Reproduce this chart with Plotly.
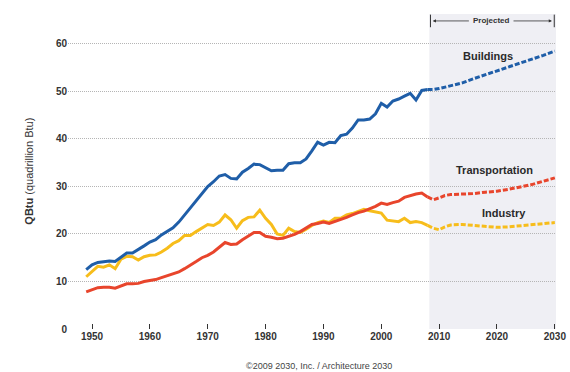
import plotly.graph_objects as go

hist_years = list(range(1949, 2009))
buildings_hist = [12.5, 13.5, 14.0, 14.2, 14.3, 14.2, 15.2, 16.0, 16.0, 16.7,
                  17.5, 18.3, 18.8, 19.8, 20.5, 21.3, 22.5, 24.0, 25.5, 27.0,
                  28.7, 30.0, 31.0, 32.2, 32.5, 31.7, 31.6, 33.0, 33.8, 34.7,
                  34.6, 34.0, 33.3, 33.4, 33.4, 34.8, 35.0, 35.0, 35.8, 37.5,
                  39.3, 38.7, 39.3, 39.2, 40.7, 41.0, 42.3, 44.0, 44.0, 44.2,
                  45.3, 47.5, 46.7, 48.0, 48.4, 49.0, 49.6, 48.2, 50.2, 50.4]
transport_hist = [7.8, 8.2, 8.7, 8.8, 8.8, 8.6, 9.1, 9.5, 9.5, 9.6,
                  10.0, 10.2, 10.4, 10.8, 11.2, 11.6, 12.0, 12.7, 13.4, 14.2,
                  15.0, 15.5, 16.2, 17.2, 18.2, 17.8, 17.9, 18.8, 19.5, 20.3,
                  20.3, 19.5, 19.3, 19.0, 19.1, 19.5, 19.9, 20.5, 21.2, 22.0,
                  22.2, 22.5, 22.2, 22.6, 23.0, 23.5, 24.0, 24.5, 24.8, 25.3,
                  25.8, 26.5, 26.2, 26.6, 26.9, 27.7, 28.1, 28.4, 28.6, 27.8]
industry_hist = [11.0, 12.0, 13.2, 13.0, 13.5, 12.7, 14.7, 15.3, 15.2, 14.5,
                 15.2, 15.5, 15.6, 16.2, 17.0, 18.0, 18.6, 19.7, 19.7, 20.5,
                 21.3, 22.0, 21.8, 22.5, 24.0, 23.0, 21.2, 22.8, 23.5, 23.6,
                 25.0, 23.3, 22.0, 20.0, 19.7, 21.2, 20.5, 20.3, 21.0, 21.8,
                 22.4, 22.7, 22.4, 23.3, 23.3, 24.0, 24.3, 24.8, 25.2, 24.9,
                 24.6, 24.4, 22.9, 22.8, 22.6, 23.3, 22.4, 22.6, 22.4, 21.8]

proj_years = [2008, 2009, 2010, 2011, 2012, 2014, 2016, 2018, 2020, 2022, 2024, 2026, 2028, 2030]
buildings_proj = [50.4, 50.4, 50.6, 50.9, 51.2, 51.8, 52.7, 53.5, 54.3, 55.1, 55.9, 56.8, 57.6, 58.5]
transport_proj = [27.8, 27.2, 27.6, 28.1, 28.3, 28.4, 28.5, 28.8, 29.0, 29.4, 29.9, 30.4, 31.1, 31.8]
industry_proj = [21.8, 21.2, 20.9, 21.5, 21.9, 22.0, 21.8, 21.6, 21.4, 21.5, 21.7, 21.9, 22.1, 22.4]

x_ticks = [1950, 1960, 1970, 1980, 1990, 2000, 2010, 2020, 2030]
y_ticks = [0, 10, 20, 30, 40, 50, 60]
proj_start = 2008.3

BLUE = "#1f5ea8"
RED = "#e8452c"
YELLOW = "#f7bd1b"

fig = go.Figure()

series = [
    ("Industry", industry_hist, industry_proj, YELLOW),
    ("Transportation", transport_hist, transport_proj, RED),
    ("Buildings", buildings_hist, buildings_proj, BLUE),
]
for name, h, p, c in series:
    fig.add_trace(go.Scatter(x=hist_years, y=h, mode="lines", name=name,
                             line=dict(color=c, width=3), showlegend=False))
    fig.add_trace(go.Scatter(x=proj_years, y=p, mode="lines", name=name + " (projected)",
                             line=dict(color=c, width=3, dash="5px,2px"), showlegend=False))

fig.add_shape(type="rect", xref="x", yref="paper", x0=proj_start, x1=2030.2, y0=0, y1=1,
              fillcolor="#efeff4", line=dict(width=0), layer="below")

lbl_font = dict(family="Liberation Sans, Arial, sans-serif", size=11, color="#2a2a2a")
fig.add_annotation(x=2018.5, y=57.5, text="<b>Buildings</b>", showarrow=False, font=lbl_font)
fig.add_annotation(x=2019.5, y=33.5, text="<b>Transportation</b>", showarrow=False, font=lbl_font)
fig.add_annotation(x=2021.2, y=24.5, text="<b>Industry</b>", showarrow=False, font=lbl_font)

# Projected bracket
arrow_y = 0.978
fig.add_annotation(x=2019.0, y=arrow_y, yref="paper", yanchor="middle", text="<b>Projected</b>",
                   showarrow=False, font=dict(family="Liberation Sans, Arial, sans-serif", size=8, color="#333"))
fig.add_annotation(x=proj_start + 0.6, y=arrow_y, yref="paper", ax=2015.4, ay=0, axref="x", ayref="pixel",
                   showarrow=True, arrowhead=2, arrowsize=0.8, arrowwidth=0.8, arrowcolor="#333", text="")
fig.add_annotation(x=2029.5, y=arrow_y, yref="paper", ax=2022.6, ay=0, axref="x", ayref="pixel",
                   showarrow=True, arrowhead=2, arrowsize=0.8, arrowwidth=0.8, arrowcolor="#333", text="")
for xx in [proj_start + 0.2, 2029.9]:
    fig.add_shape(type="line", xref="x", yref="paper", x0=xx, x1=xx, y0=arrow_y - 0.02, y1=arrow_y + 0.02,
                  line=dict(color="#333", width=1))

fig.add_annotation(xref="paper", yref="paper", x=-0.098, y=0.5, textangle=-90,
                   text="<b>QBtu</b> (quadrillion Btu)", showarrow=False,
                   font=dict(family="Liberation Sans, Arial, sans-serif", size=11, color="#333"))
fig.add_annotation(xref="paper", yref="paper", x=0.515, y=-0.117, yanchor="middle",
                   text="©2009 2030, Inc. / Architecture 2030", showarrow=False,
                   font=dict(family="Liberation Sans, Arial, sans-serif", size=9, color="#444"))

tick_font = dict(family="Liberation Sans, Arial, sans-serif", size=10, color="#333")
fig.update_xaxes(range=[1945.85, 2030.2], tickvals=x_ticks, ticktext=[f"<b>{v}</b>" for v in x_ticks],
                 showgrid=False, zeroline=False, showline=False, ticks="inside", ticklen=5,
                 tickwidth=1.2, tickcolor="#333", tickfont=tick_font, automargin=False)
fig.update_yaxes(range=[0, 66.3], tickvals=y_ticks, ticktext=[f"<b>{v}</b>" for v in y_ticks],
                 showgrid=True, gridcolor="#b5b5b5", griddash="1px,1px", gridwidth=1,
                 zeroline=False, showline=False, ticks="", tickfont=tick_font, automargin=False)

fig.update_layout(width=570, height=372, margin=dict(l=68, r=14, t=14, b=43, autoexpand=False),
                  plot_bgcolor="white", paper_bgcolor="white")

fig.write_html("out.html")
